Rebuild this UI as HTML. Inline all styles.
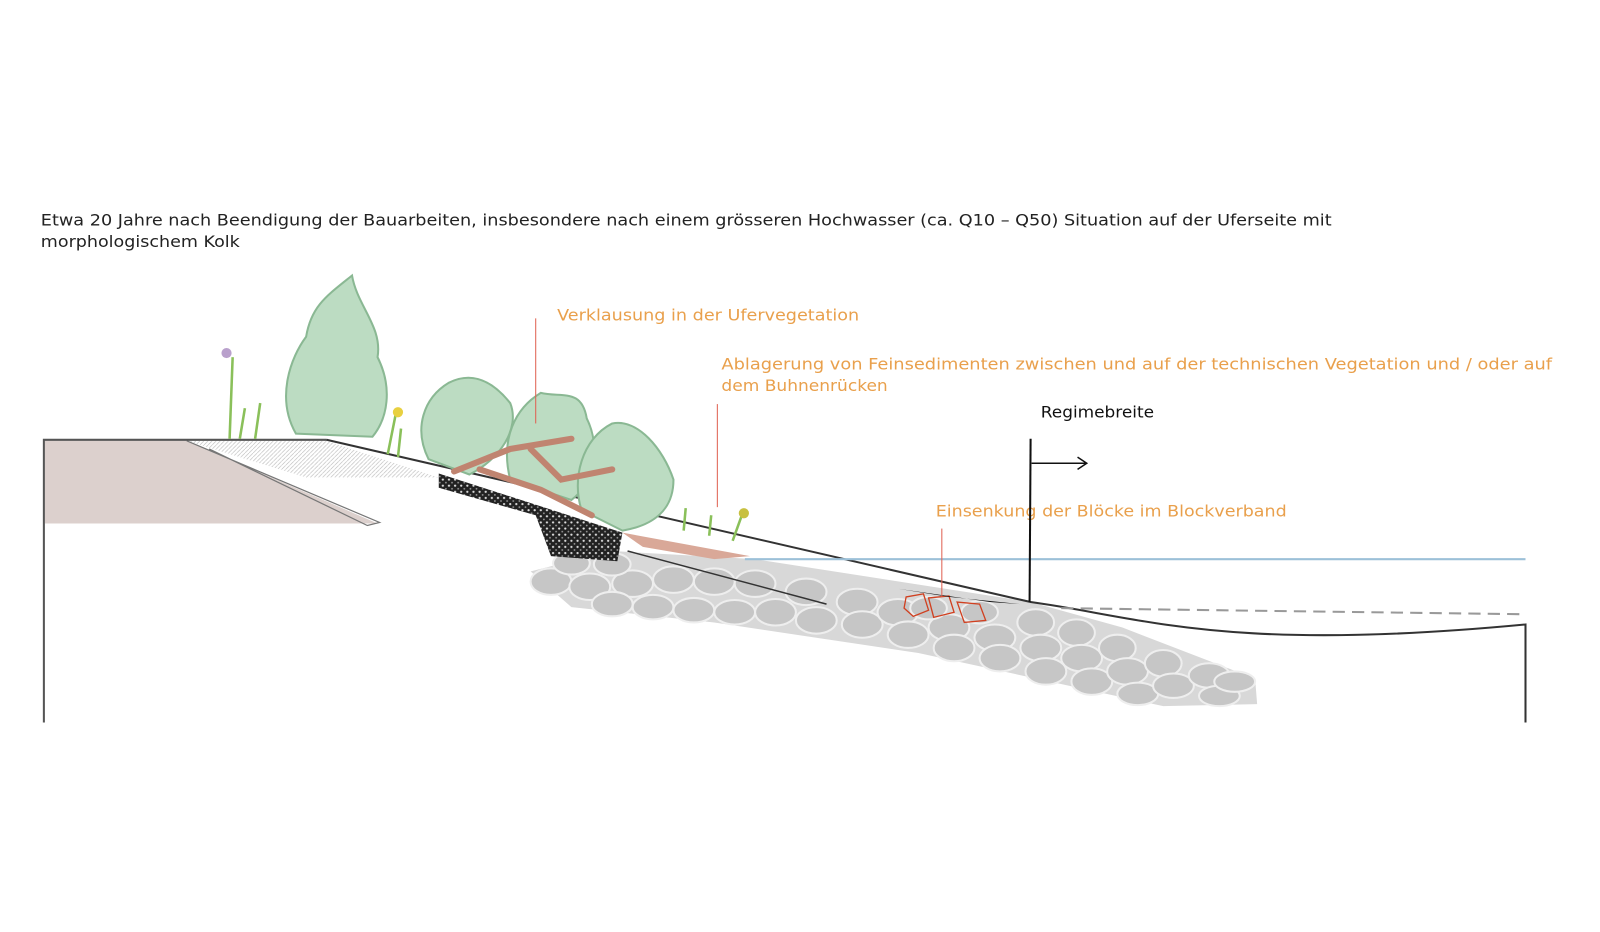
<!DOCTYPE html>
<html><head><meta charset="utf-8"><style>
html,body{margin:0;padding:0;background:#fff;}
svg{display:block;}
text{font-family:"DejaVu Sans","Liberation Sans",sans-serif;}
</style></head><body>
<svg width="1600" height="932" viewBox="0 0 1600 932" xmlns="http://www.w3.org/2000/svg">
<defs>
<pattern id="hatch" width="4" height="4" patternUnits="userSpaceOnUse"><path d="M0 4L4 0" stroke="#bbb" stroke-width="0.6"/></pattern>
<pattern id="grav" width="6" height="6" patternUnits="userSpaceOnUse"><rect width="6" height="6" fill="#222"/><circle cx="2" cy="2" r="1.1" fill="#ddd"/><circle cx="5" cy="5" r="0.9" fill="#999"/></pattern>
</defs>
<g transform="scale(1.0204)">
<text x="40" y="221" font-size="15.5" fill="#222" textLength="1265" lengthAdjust="spacingAndGlyphs">Etwa 20 Jahre nach Beendigung  der Bauarbeiten,  insbesondere  nach einem  grösseren  Hochwasser  (ca. Q10 – Q50) Situation  auf der Uferseite  mit</text>
<text x="40" y="242" font-size="15.5" fill="#222" textLength="195" lengthAdjust="spacingAndGlyphs">morphologischem  Kolk</text>

<polygon points="44,432 183,432 370,513 44,513" fill="#dcd0cd"/>
<polygon points="183,432 320,432 430,468 300,468" fill="url(#hatch)"/>
<path d="M183,432 L372,512 L360,515 L205,440" fill="none" stroke="#777" stroke-width="1.2"/>
<path d="M43,708 L43,431 L320,431" fill="none" stroke="#555" stroke-width="2"/>

<polygon points="520,560 600,540 740,548 1010,590 1100,615 1230,665 1232,690 1140,692 900,640 700,610 560,595" fill="#d8d8d8"/>
<g fill="#c6c6c6" stroke="#eee" stroke-width="2">
<ellipse cx="540" cy="570" rx="20" ry="13"/><ellipse cx="578" cy="575" rx="20" ry="13"/><ellipse cx="620" cy="572" rx="20" ry="13"/><ellipse cx="660" cy="568" rx="20" ry="13"/>
<ellipse cx="560" cy="552" rx="18" ry="11"/><ellipse cx="600" cy="553" rx="18" ry="11"/><ellipse cx="700" cy="570" rx="20" ry="13"/><ellipse cx="740" cy="572" rx="20" ry="13"/>
<ellipse cx="600" cy="592" rx="20" ry="12"/><ellipse cx="640" cy="595" rx="20" ry="12"/><ellipse cx="680" cy="598" rx="20" ry="12"/><ellipse cx="720" cy="600" rx="20" ry="12"/>
<ellipse cx="760" cy="600" rx="20" ry="13"/><ellipse cx="790" cy="580" rx="20" ry="13"/><ellipse cx="800" cy="608" rx="20" ry="13"/><ellipse cx="840" cy="590" rx="20" ry="13"/>
<ellipse cx="845" cy="612" rx="20" ry="13"/><ellipse cx="880" cy="600" rx="20" ry="13"/><ellipse cx="890" cy="622" rx="20" ry="13"/><ellipse cx="930" cy="615" rx="20" ry="13"/>
<ellipse cx="935" cy="635" rx="20" ry="13"/><ellipse cx="975" cy="625" rx="20" ry="13"/><ellipse cx="980" cy="645" rx="20" ry="13"/><ellipse cx="1015" cy="610" rx="18" ry="13"/>
<ellipse cx="1020" cy="635" rx="20" ry="13"/><ellipse cx="1025" cy="658" rx="20" ry="13"/><ellipse cx="1055" cy="620" rx="18" ry="13"/><ellipse cx="1060" cy="645" rx="20" ry="13"/>
<ellipse cx="1070" cy="668" rx="20" ry="13"/><ellipse cx="1095" cy="635" rx="18" ry="13"/><ellipse cx="1105" cy="658" rx="20" ry="13"/><ellipse cx="1115" cy="680" rx="20" ry="11"/>
<ellipse cx="1140" cy="650" rx="18" ry="13"/><ellipse cx="1150" cy="672" rx="20" ry="12"/><ellipse cx="1185" cy="662" rx="20" ry="12"/><ellipse cx="1195" cy="682" rx="20" ry="10"/>
<ellipse cx="1210" cy="668" rx="20" ry="10"/><ellipse cx="910" cy="596" rx="18" ry="11"/><ellipse cx="960" cy="600" rx="18" ry="11"/>
</g>
<g fill="none" stroke="#d04020" stroke-width="1.3">
<polygon points="888,585 905,582 910,598 895,604 886,596"/><polygon points="910,586 930,584 935,600 915,605"/><polygon points="938,590 960,592 966,608 945,610"/>
</g>
<polygon points="880,577 970,590 1000,592 930,585" fill="#111"/>

<polygon points="430,464 610,522 605,550 540,545 525,505 430,478" fill="url(#grav)"/>
<polygon points="610,522 735,545 700,548 630,536" fill="#d9a898"/>

<path d="M320,431 L1010,590 C1120,605 1200,640 1495,612 L1495,708" fill="none" stroke="#333" stroke-width="2"/>
<path d="M615,540 L810,592" stroke="#333" stroke-width="1.5"/>
<line x1="730" y1="548" x2="1495" y2="548" stroke="#9cc0d8" stroke-width="2"/>
<line x1="1040" y1="596" x2="1495" y2="602" stroke="#999" stroke-width="2" stroke-dasharray="12,7"/>

<g fill="#bcdcc2" stroke="#8ab893" stroke-width="2">
<path d="M290,425 C270,390 285,350 300,330 C305,300 320,290 345,270 C350,300 375,320 370,350 C385,380 380,410 365,428 Z"/>
<path d="M420,450 C405,420 415,390 440,375 C460,365 480,370 500,395 C510,420 490,450 460,465 Z"/>
<path d="M500,470 C490,430 505,400 530,385 C550,390 570,380 575,410 C590,440 580,475 560,490 Z"/>
<path d="M570,500 C560,470 570,430 600,415 C625,410 650,440 660,470 C660,500 640,515 610,520 Z"/>
</g>
<g stroke="#c08470" stroke-width="6" fill="none" stroke-linecap="round">
<path d="M445,462 L500,440 L560,430"/><path d="M470,460 L530,480 L580,505"/><path d="M520,440 L550,470 L600,460"/>
</g>
<g stroke="#8ac05a" stroke-width="2.5" fill="none">
<path d="M225,430 L228,350"/><path d="M235,430 L240,400"/><path d="M250,430 L255,395"/><path d="M380,445 L388,405"/><path d="M390,448 L393,420"/>
<path d="M670,520 L672,498"/><path d="M695,525 L697,505"/><path d="M718,530 L727,505"/>
</g>
<circle cx="222" cy="346" r="5" fill="#b9a0cc"/><circle cx="390" cy="404" r="5" fill="#e8d040"/><circle cx="729" cy="503" r="5" fill="#c8c040"/>

<g fill="#e9a04c" font-size="15.5">
<text x="546" y="314" textLength="296" lengthAdjust="spacingAndGlyphs">Verklausung  in der Ufervegetation</text>
<text x="707" y="362" textLength="814" lengthAdjust="spacingAndGlyphs">Ablagerung  von Feinsedimenten  zwischen und auf der technischen Vegetation und / oder auf</text>
<text x="707" y="383" textLength="163" lengthAdjust="spacingAndGlyphs">dem  Buhnenrücken</text>
<text x="917" y="506" textLength="344" lengthAdjust="spacingAndGlyphs">Einsenkung  der Blöcke  im  Blockverband</text>
</g>
<g stroke="#e06050" stroke-width="1">
<line x1="525" y1="312" x2="525" y2="415"/><line x1="703" y1="396" x2="703" y2="497"/><line x1="923" y1="518" x2="923" y2="585"/>
</g>
<text x="1020" y="409" font-size="15.5" fill="#111" textLength="111" lengthAdjust="spacingAndGlyphs">Regimebreite</text>
<line x1="1010" y1="430" x2="1009" y2="590" stroke="#111" stroke-width="2"/>
<path d="M1011,454 L1065,454 M1056,448 L1065,454 L1056,460" fill="none" stroke="#111" stroke-width="1.5"/>
</g>
</svg>
</body></html>
